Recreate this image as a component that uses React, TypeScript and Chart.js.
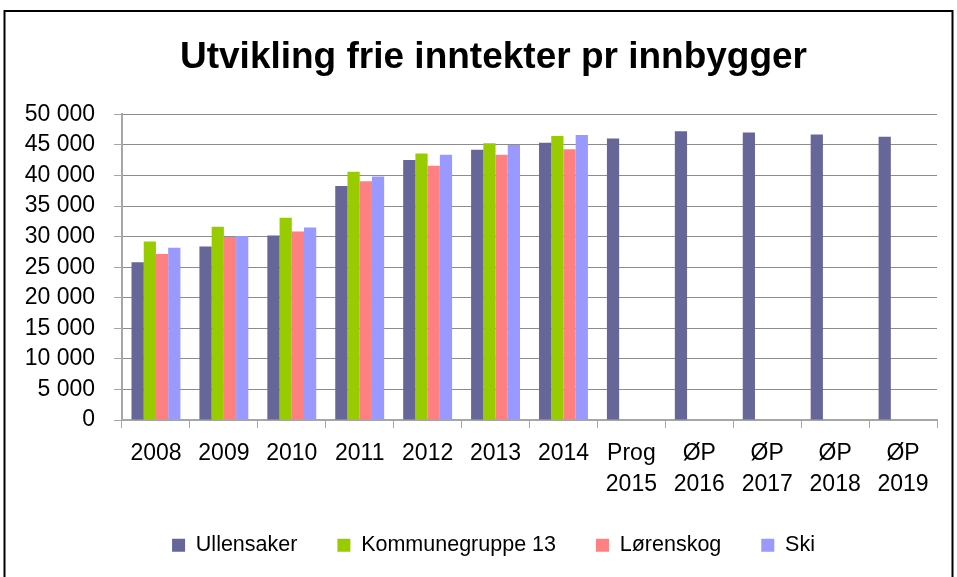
import React, { useEffect, useRef } from "react";
import { Chart, registerables } from "chart.js";

Chart.register(...registerables);

const categories: (string | string[])[] = [
  "2008", "2009", "2010", "2011", "2012", "2013", "2014",
  ["Prog", "2015"], ["ØP", "2016"], ["ØP", "2017"], ["ØP", "2018"], ["ØP", "2019"],
];

const ullensaker = [25800, 28400, 30200, 38300, 42550, 44200, 45350, 46050, 47250, 47050, 46700, 46350];
const kommunegruppe13 = [29200, 31600, 33100, 40600, 43600, 45300, 46450, null, null, null, null, null];
const lorenskog = [27150, 29950, 30850, 39050, 41600, 43400, 44300, null, null, null, null, null];
const ski = [28200, 30100, 31500, 39850, 43400, 45000, 46650, null, null, null, null, null];

const yMin = 0;
const yMax = 50000;
const yStep = 5000;

const FONT = "'Liberation Sans', Arial, sans-serif";

const fmt = (v: number) => String(Math.round(v)).replace(/\B(?=(\d{3})+(?!\d))/g, " ");

const framePlugin = {
  id: "frame",
  afterLayout(chart: any) {
    const dx = 25;
    if (chart.titleBlock) {
      chart.titleBlock.left += dx;
      chart.titleBlock.right += dx;
    }
    if (chart.legend) {
      chart.legend.left += dx;
      chart.legend.right += dx;
    }
  },
  afterDraw(chart: any) {
    const ctx = chart.ctx;
    ctx.save();
    ctx.strokeStyle = "#000";
    ctx.lineWidth = 2;
    ctx.strokeRect(4.5, 11, 948, 700);
    ctx.restore();
  },
};

export default function App() {
  const ref = useRef<HTMLCanvasElement>(null);
  useEffect(() => {
    if (!ref.current) return;
    const chart = new Chart(ref.current, {
      type: "bar",
      data: {
        labels: categories as any,
        datasets: [
          { label: "Ullensaker", data: ullensaker, backgroundColor: "#666699" },
          { label: "Kommunegruppe 13", data: kommunegruppe13 as any, backgroundColor: "#99CC00" },
          { label: "Lørenskog", data: lorenskog as any, backgroundColor: "#FF8080" },
          { label: "Ski", data: ski as any, backgroundColor: "#9999FF" },
        ],
      },
      options: {
        responsive: false,
        animation: false,
        devicePixelRatio: 1,
        layout: { padding: { left: 0, right: 20, top: 0, bottom: 11 } },
        datasets: { bar: { categoryPercentage: 0.72, barPercentage: 1 } } as any,
        plugins: {
          title: {
            display: true,
            text: "Utvikling frie inntekter pr innbygger",
            color: "#000",
            font: { family: FONT, size: 37, weight: "bold", lineHeight: 1.2 },
            padding: { top: 36, bottom: 34 },
          },
          legend: {
            display: true,
            position: "bottom",
            labels: {
              color: "#000",
              font: { family: FONT, size: 21.5 },
              boxWidth: 13,
              boxHeight: 13,
              padding: 40,
            },
          },
          tooltip: { enabled: false },
        },
        scales: {
          x: {
            grid: {
              display: true,
              drawOnChartArea: false,
              drawTicks: true,
              tickLength: 8,
              tickColor: "#a6a6a6",
              offset: true,
            },
            border: { display: true, color: "#a6a6a6", width: 2 },
            ticks: {
              color: "#000",
              font: { family: FONT, size: 23, lineHeight: 1.36 },
              padding: 10,
              maxRotation: 0,
              autoSkip: false,
            },
            afterFit: (scale: any) => {
              scale.height = 74.5;
            },
          },
          y: {
            min: yMin,
            max: yMax,
            ticks: {
              stepSize: yStep,
              autoSkip: false,
              color: "#000",
              font: { family: FONT, size: 23 },
              padding: 19,
              callback: (v: any) => fmt(Number(v)),
            },
            grid: {
              color: "#8c8c8c",
              lineWidth: 1,
              tickLength: 8,
              tickColor: "#a6a6a6",
            },
            border: { display: true, color: "#a6a6a6", width: 2 },
            afterFit: (scale: any) => {
              scale.width = 122;
            },
          },
        },
      },
      plugins: [framePlugin],
    });
    return () => chart.destroy();
  }, []);

  return (
    <div style={{ position: "absolute", left: 0, top: 0, width: 957, height: 577, background: "#fff" }}>
      <canvas ref={ref} width={957} height={577} style={{ display: "block" }} />
    </div>
  );
}
